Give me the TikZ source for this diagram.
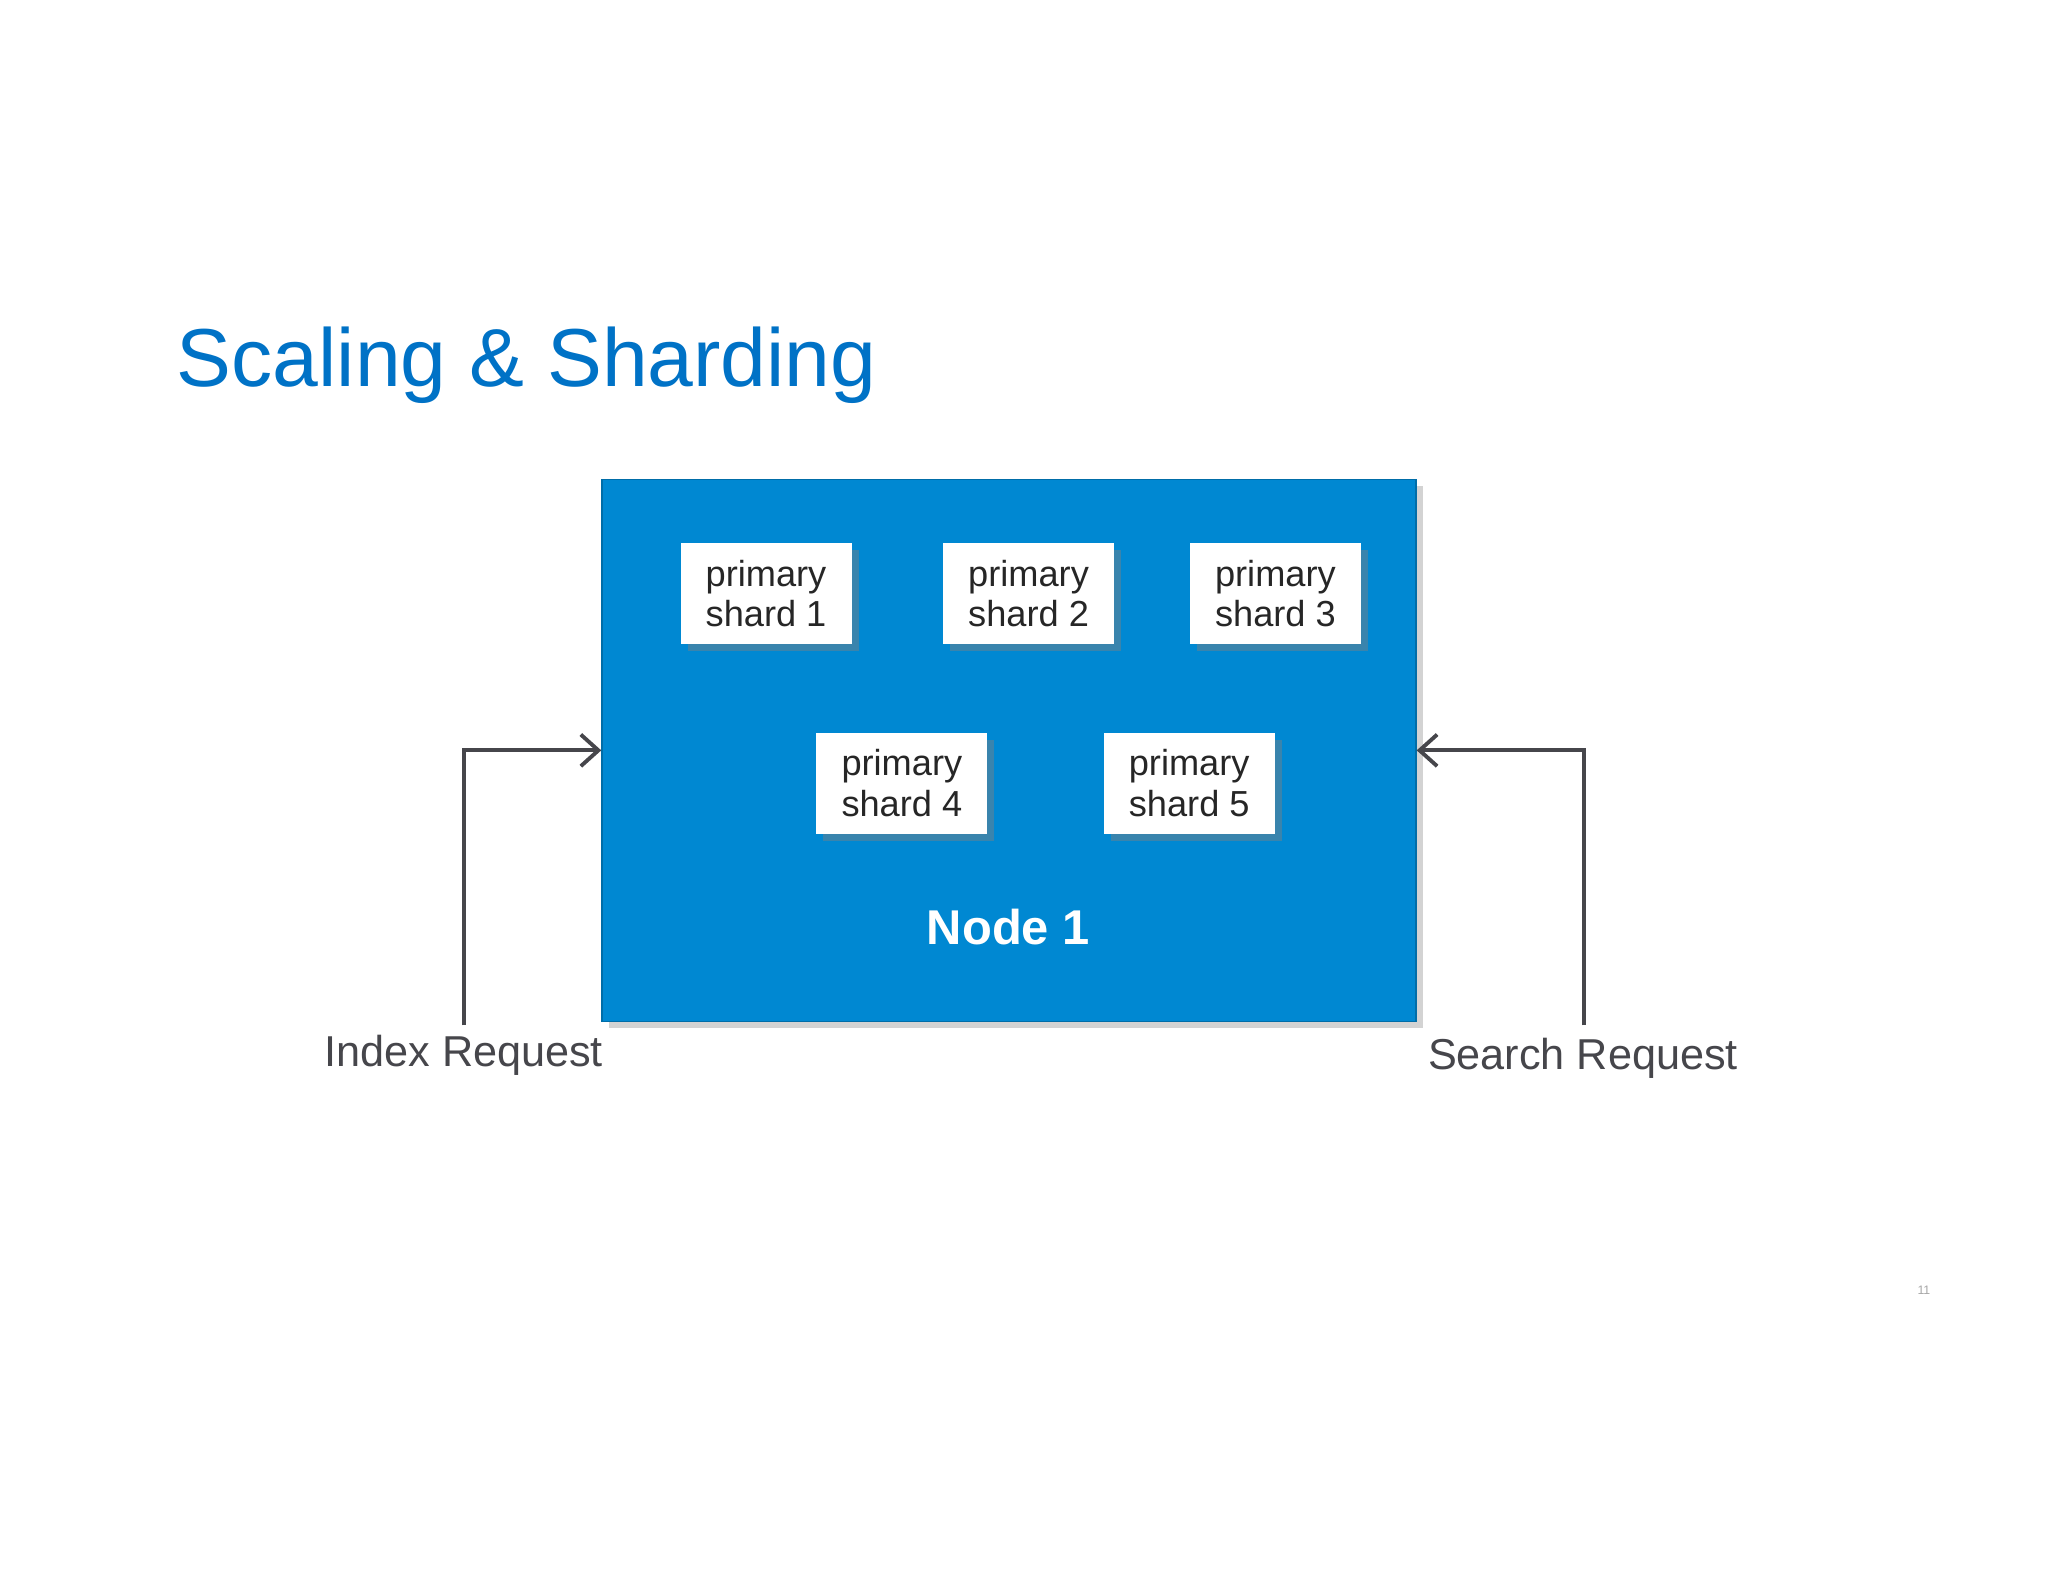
\documentclass[tikz,border=0pt]{standalone}
\usepackage{fontspec}
\setmainfont{Liberation Sans}
\usetikzlibrary{arrows.meta,positioning,shadows}
\definecolor{titleblue}{RGB}{0,114,198}
\definecolor{nodeblue}{RGB}{0,136,210}
\definecolor{arrowgray}{RGB}{70,70,75}
\begin{document}
\begin{tikzpicture}[x=0.01306cm, y=-0.01306cm,
    server/.style={draw=nodeblue!80!black, fill=nodeblue, minimum width=8.14cm, minimum height=5.42cm, inner sep=0pt, drop shadow={shadow xshift=2pt, shadow yshift=-2pt, opacity=0.35}},
    shard/.style={fill=white, minimum width=1.71cm, minimum height=1.01cm, align=left, font=\fontsize{10.3}{11.6}\selectfont, text=black!85, drop shadow={shadow xshift=2pt, shadow yshift=-2pt, opacity=0.45}},
    request/.style={font=\fontsize{12.3}{14}\selectfont, text=arrowgray},
    link/.style={draw=arrowgray, line width=1.1pt, -{Straight Barb[length=5pt, width=9pt, line width=1.1pt]}}
]
\useasboundingbox (0,0) rectangle (1568,1211.3);

% Title
\node[anchor=west, font=\fontsize{23.4}{26}\selectfont, text=titleblue] (title) at (126,280) {Scaling \& Sharding};

% Node with its shards
\node[server] (node1) at (772.5,574.5) {};
\node[shard] (shard1) at (586.5,454.5) {primary\\shard 1};
\node[shard] (shard2) at (787.5,454.5) {primary\\shard 2};
\node[shard] (shard3) at (976.5,454.5) {primary\\shard 3};
\node[shard] (shard4) at (690.5,599.5) {primary\\shard 4};
\node[shard] (shard5) at (910.5,599.5) {primary\\shard 5};
\node[font=\bfseries\fontsize{13.9}{16}\selectfont, text=white] (label1) at (772,710) {Node 1};

% Requests
\node[request] (index) at (355,808) {Index Request};
\node[request] (search) at (1212,810) {Search Request};
\coordinate (indexstart) at (355,785);
\coordinate (searchstart) at (1213,785);
\draw[link] (indexstart) |- (node1.west);
\draw[link] (searchstart) |- (node1.east);

% Page number
\node[font=\fontsize{3.5}{4}\selectfont, text=black!35] (page) at (1473,988) {11};
\end{tikzpicture}
\end{document}
